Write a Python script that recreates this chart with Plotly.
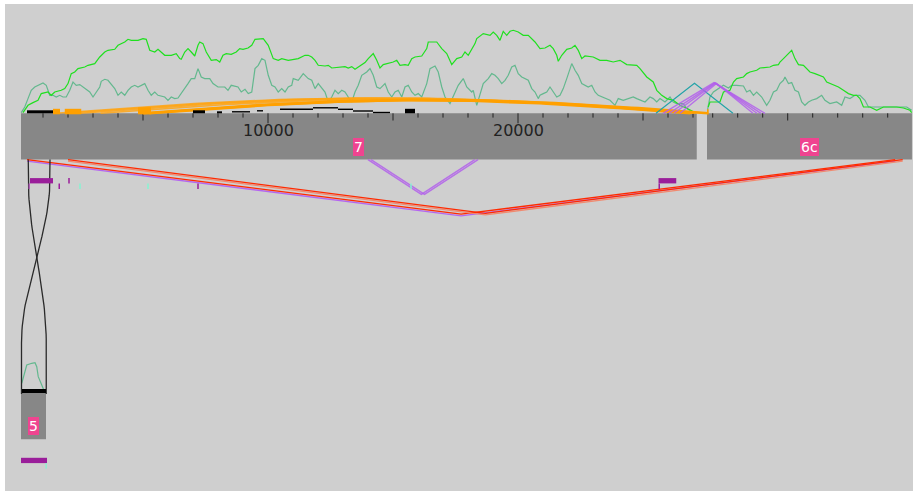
import math
import plotly.graph_objects as go

# ------------------------------------------------------------------ data
contig_names  = ["7", "6c", "5"]
contig_first  = [120, 1772, 0]        # first displayed base
contig_last   = [27150, 9970, 1000]   # last displayed base
contig_offset = [0, 25788, 120]       # offset of the contig inside its row (bp)
contig_row    = [0, 0, 1]

tick_step = 1000
tick_mid = 5000
tick_major = 10000

# coverage tracks: (base, depth)
green_7 = [(200,0.7),(400,8),(600,10.7),(800,13),(930,19.7),(1200,21.3),(1330,18),(1470,21.3),(1730,23),(1870,24.7),(2000,29.7),(2130,39.7),(2270,41.3),(2400,44.7),(2670,46.3),(2800,48),(3070,49.7),(3270,56.3),(3470,61.3),(3600,63),(3870,64),(4000,68),(4270,71.3),(4400,74),(4530,73),(4800,73),(5000,74.7),(5130,74),(5270,63),(5470,61.3),(5600,64),(5730,61.3),(5870,58),(6130,58),(6330,59.7),(6470,54.7),(6530,54),(6670,61.3),(6800,64.7),(6930,61.3),(7070,57.3),(7200,68),(7270,71.3),(7400,69.7),(7530,61.3),(7730,53),(7930,53.7),(8070,51.3),(8200,58),(8330,59.7),(8530,59),(8730,61.3),(8870,64.7),(9000,64),(9200,65.3),(9350,68),(9480,74),(9810,74.7),(10010,68),(10210,54.7),(10410,53),(10550,54.7),(10810,53),(11210,54.7),(11350,56.3),(11480,58),(11610,58),(11750,56.3),(11880,53),(12010,48),(12280,47.3),(12410,48),(12550,45.3),(12810,46.3),(13080,46.7),(13210,45.3),(13350,46.7),(13480,44),(13610,46.3),(13750,48),(13880,50.7),(14010,54.7),(14150,58),(14210,59.7),(14350,53),(14480,45.3),(14610,48.7),(14810,49.7),(15010,51.3),(15150,53),(15280,48),(15480,48.7),(15610,48),(15750,54.7),(15880,56.3),(16150,57.3),(16350,64.7),(16410,71.3),(16750,71.3),(16950,64.7),(17150,59.7),(17350,48.7),(17550,54.7),(17750,56.3),(17880,61.3),(18010,58),(18150,64.7),(18280,69.7),(18350,74.7),(18610,79.7),(18880,78),(19010,81.3),(19150,78),(19280,73),(19410,82),(19550,78),(19680,82),(19810,83),(20010,81.3),(20210,78),(20410,78),(20550,74.7),(20680,71.3),(20880,64.7),(21080,65.3),(21280,68),(21410,64.7),(21550,58),(21610,52),(21750,58),(21950,64),(22150,65.3),(22280,68),(22410,63),(22550,54.7),(22680,57.3),(23010,56.3),(23280,53),(23550,53),(23810,51.3),(24080,53),(24350,48.7),(24750,48),(24880,44.7),(25150,36.3),(25410,31.3),(25550,23),(25750,18),(25950,14.7),(26210,13),(26480,8),(26750,5),(27010,2),(27100,0.5)]

teal_7 = [(130,0.7),(270,6.3),(400,14.7),(530,23),(670,26.3),(800,28),(1000,30.3),(1130,28),(1200,23),(1270,18),(1400,18),(1530,16.3),(1670,18),(1800,16.3),(1930,16.3),(2070,23),(2200,31.3),(2330,28),(2470,28.7),(2600,26.3),(2730,23),(2870,21.3),(3000,16.3),(3130,21.3),(3270,26.3),(3330,32),(3470,34),(3600,33),(3730,28.7),(3870,24.7),(4000,18),(4130,21.3),(4270,18),(4400,23),(4530,26.3),(4670,28),(4800,26.3),(4930,28),(5070,29.7),(5200,23),(5330,18),(5470,21.3),(5600,18),(5870,16.3),(6000,13),(6130,16.3),(6270,14.7),(6400,15.3),(6530,19.7),(6670,24.7),(6800,29.7),(6930,34.7),(7070,34.7),(7200,44.7),(7330,36.3),(7470,34.7),(7670,34.7),(7800,29.7),(8000,26.3),(8270,26.3),(8400,23),(8530,28),(8800,26.3),(8930,21.3),(9080,24),(9210,19.7),(9350,21.3),(9480,44.7),(9610,48),(9750,54.7),(9880,53),(10010,38),(10150,28),(10280,26.3),(10410,21.3),(10550,24.7),(10680,21.3),(10810,26.3),(10950,28),(11010,34.7),(11210,33),(11410,39.7),(11610,34.7),(11750,33),(11880,24.7),(12010,29.7),(12150,24.7),(12280,21.3),(12410,11.3),(12550,16.3),(12680,23),(12810,19.7),(12950,23),(13080,21.3),(13210,16.3),(13350,11.3),(13480,21.3),(13610,28),(13750,38),(13950,41.3),(14080,44.7),(14210,38),(14350,26.3),(14480,24.7),(14680,29.7),(14810,21.3),(14950,16.3),(15080,21.3),(15210,23),(15350,16.3),(15480,26.3),(15610,28),(15750,21.3),(15880,18),(16010,19.7),(16150,16.3),(16350,29.7),(16480,44.7),(16680,47.3),(16810,41.3),(16950,26.3),(17080,16.3),(17280,9.7),(17410,16.3),(17610,28),(17810,34.7),(17950,26.3),(18150,21.3),(18210,23),(18350,8),(18480,19.7),(18610,29.7),(18810,34.7),(18950,39.7),(19080,38),(19210,34.7),(19350,29.7),(19480,33),(19610,38),(19750,46.3),(19880,48),(20010,39.7),(20150,36.3),(20280,34.7),(20410,33),(20550,24.7),(20680,21.3),(20810,14.7),(20880,18),(21010,19.7),(21150,21.3),(21280,26.3),(21410,21.3),(21550,16.3),(21680,18),(21810,24.7),(21950,34.7),(22150,49.7),(22280,43),(22410,38),(22550,29.7),(22680,28),(22810,26.3),(22950,28),(23080,21.3),(23210,18),(23350,16.3),(23480,14.7),(23680,13),(23880,8),(24010,14.7),(24210,13),(24410,14.7),(24610,16.3),(24750,14.7),(24950,13),(25080,11.3),(25280,16.3),(25410,14.7),(25550,11.3),(25680,14.7),(25880,11.3),(26080,16.3),(26210,11.3),(26350,9.7),(26610,9.7),(26750,4.7),(27010,0.7)]

green_6c = [(1820,6.3),(1890,11.3),(2290,11.3),(2430,21.3),(2690,23),(2830,31.3),(2960,34.7),(3230,36.3),(3360,39.7),(3490,41.3),(3760,43),(3890,45.3),(4290,46.3),(4430,48),(4630,48.7),(4690,51.3),(4830,54.7),(5030,59.7),(5160,63),(5290,54.7),(5430,48.7),(5630,48),(5760,44.7),(5890,41.3),(6090,39.7),(6290,38),(6430,36.3),(6560,31.3),(6690,29.7),(6830,28),(7030,26.3),(7230,23),(7430,19.7),(7630,18),(7760,18),(7890,14.7),(8030,6.3),(8290,6.3),(8560,3),(8830,6.3),(9360,6.3),(9630,5.3),(9890,3),(9960,0.7)]

teal_6c = [(1790,3),(1890,16.3),(2030,21.3),(2230,24.7),(2430,28),(2630,25.3),(2760,28),(2960,28),(3230,27.3),(3360,21.3),(3490,23),(3630,18),(3760,21.3),(3960,16.3),(4160,8),(4290,13),(4430,21.3),(4560,23),(4690,29.7),(4830,33),(4890,36.3),(5030,29.7),(5160,30.7),(5290,23),(5430,21.3),(5560,11.3),(5690,8),(5830,11.3),(5960,13),(6160,14.7),(6360,18),(6490,13),(6690,9.7),(6960,11.3),(7160,8),(7290,16.3),(7490,14.7),(7690,18),(7890,18),(8090,13),(8230,6.3),(8430,6.3),(8760,6.3),(9090,6.3),(9430,6.3),(9760,6.3),(9960,3)]

teal_5 = [(30,9.7),(160,23),(230,28),(430,29.7),(560,30.3),(630,26.3),(690,16.3),(830,8),(960,0)]

# black read-depth blocks (contig, start, end, depth) and thin steps
black_blocks = [("7",360,1400,3),("7",7000,7480,3),("7",7960,8160,2),("7",15480,15880,4.5),("5",40,1000,4)]
black_steps  = [("7",8560,9280,1.5),("7",9560,9800,2.5),("7",10480,11800,4),("7",11800,12800,5.5),
                ("7",12800,13400,4),("7",13400,14200,2.3),("7",14200,14880,0.8)]

# orange anchor blocks (contig, start, end, depth)
orange_blocks = [("7",1400,1680,4.5),("7",1870,2530,4.5),("7",4800,5320,6),("6c",1772,1840,4)]

# links (contig A, base A, contig B, base B)
orange_links = [("7",1500,"7",27000),("7",1900,"7",27100),("7",2500,"6c",1800),
                ("7",3300,"7",26950),("7",5000,"7",26900),("7",5250,"6c",1820)]
orange_heavy = [False, False, False, False, True, True]
purple_up   = [("7",25800,"6c",4090),("7",26040,"6c",3930),("7",26240,"6c",3770),("7",26480,"6c",3610)]
teal_up     = [("7",25520,"6c",2810)]
purple_down = [("7",14000,"7",18270),("7",14120,"7",18400)]
red_down    = [("7",360,"6c",9300),("7",2000,"6c",9600)]
black_cross = [("7",410,"5",1010),("7",1280,"5",20)]

# annotation features below contigs (contig, start, end, lane, kind)
features = [("7",480,1400,0,"p"),("7",420,470,1,"l"),("7",1620,1680,1,"p"),("7",2010,2070,0,"p"),
            ("7",7170,7230,1,"p"),("7",2450,2510,1,"c"),("7",5170,5230,1,"c"),("7",25620,26330,0,"p"),
            ("7",25620,25680,1,"p"),("7",15690,15750,1,"c"),("5",0,1040,0,"p"),("5",980,1030,1,"c")]

# ------------------------------------------------------------------ style
ROW_TOP = [113.3, 393.0]
CONTIG_H = 46.3
FEAT_COL = {"p": "#9a1e9a", "l": "#b04ab8", "c": "#86f5d2"}
LANE_Y = [(18.5, 23.8), (23.8, 29.5)]

idx = {n: i for i, n in enumerate(contig_names)}
def X(c, bp): return bp + contig_offset[idx[c]]
def top(c): return ROW_TOP[contig_row[idx[c]]]
def bottom(c): return top(c) + CONTIG_H

fig = go.Figure()
shapes, annos = [], []

# contigs
for n, a, b in zip(contig_names, contig_first, contig_last):
    shapes.append(dict(type="rect", xref="x", yref="y", x0=X(n, a), x1=X(n, b),
                       y0=top(n), y1=bottom(n), fillcolor="#878787", line=dict(width=0), layer="below"))
    annos.append(dict(x=X(n, (a + b) / 2), y=top(n) + 33.3, text=n, showarrow=False,
                      font=dict(family="DejaVu Sans", size=14, color="white"),
                      bgcolor="#ef4490", borderpad=1, borderwidth=0, xanchor="center", yanchor="middle"))

# ticks
tx, ty = [], []
for n, a, b in zip(contig_names, contig_first, contig_last):
    t = (a // tick_step + 1) * tick_step
    while t < b:
        ln = 10 if t % tick_major == 0 else (7.2 if t % tick_mid == 0 else 4.3)
        tx += [X(n, t), X(n, t), None]
        ty += [top(n), top(n) + ln, None]
        if n == "7" and t % tick_major == 0:
            annos.append(dict(x=X(n, t), y=top(n) + 17.5, text=str(t), showarrow=False,
                              font=dict(family="DejaVu Sans", size=16, color="#222222"),
                              xanchor="center", yanchor="middle"))
        t += tick_step
fig.add_trace(go.Scatter(x=tx, y=ty, mode="lines", line=dict(color="#222222", width=1), hoverinfo="skip"))

# coverage
def cov(c, pairs, color, w):
    fig.add_trace(go.Scatter(x=[X(c, p[0]) for p in pairs], y=[top(c) - p[1] for p in pairs],
                             mode="lines", line=dict(color=color, width=w), hoverinfo="skip"))
cov("7", teal_7, "rgba(80,180,130,0.85)", 1.2)
cov("6c", teal_6c, "rgba(80,180,130,0.85)", 1.2)
cov("5", teal_5, "rgba(80,180,130,0.85)", 1.2)
cov("7", green_7, "#1fe01f", 1.2)
cov("6c", green_6c, "#1fe01f", 1.2)

# black depth
for c, a, b, d in black_blocks:
    shapes.append(dict(type="rect", xref="x", yref="y", x0=X(c, a), x1=X(c, b), y0=top(c) - d, y1=top(c),
                       fillcolor="black", line=dict(width=0)))
bx, by = [], []
for c, a, b, d in black_steps:
    bx += [X(c, a), X(c, b), None]
    by += [top(c) - d, top(c) - d, None]
fig.add_trace(go.Scatter(x=bx, y=by, mode="lines", line=dict(color="black", width=1.4), hoverinfo="skip"))

# orange arcs
for (ca, a, cb, b), heavy in zip(orange_links, orange_heavy):
    xa, xb = X(ca, a), X(cb, b)
    h = abs(xb - xa) * 0.0006
    xs = [xa + (xb - xa) * i / 80 for i in range(81)]
    ys = [top(ca) - h * math.sin(math.pi * i / 80) for i in range(81)]
    fig.add_trace(go.Scatter(x=xs, y=ys, mode="lines", hoverinfo="skip",
                             line=dict(color="#ffa000" if heavy else "rgba(255,165,20,0.85)",
                                       width=2.6 if heavy else 1.6)))
for c, a, b, d in orange_blocks:
    shapes.append(dict(type="rect", xref="x", yref="y", x0=X(c, a), x1=X(c, b), y0=top(c) - d, y1=top(c) + 1,
                       fillcolor="#ffa000", line=dict(width=0)))

# V links
def vlink(ca, a, cb, b, up, color, w, shift=0.0):
    xa, xb = X(ca, a), X(cb, b)
    span = abs(xb - xa)
    if up:
        base = top(ca); h = -(28 + span * 0.00065)
    else:
        base = bottom(ca); h = 32 + span * 0.00065
    fig.add_trace(go.Scatter(x=[xa, (xa + xb) / 2, xb], y=[base + shift, base + h + shift, base + shift],
                             mode="lines", line=dict(color=color, width=w), hoverinfo="skip"))

for l in teal_up:
    vlink(*l, True, "#21a3a8", 1.1)
for l in purple_up:
    vlink(*l, True, "rgba(178,95,235,0.85)", 1.4)
for l in purple_down:
    vlink(*l, False, "rgba(178,95,235,0.85)", 1.4)
for l, comp in zip(red_down, ["#b466f0", "#f08a70"]):
    vlink(*l, False, comp, 1.3, shift=1.6)
    vlink(*l, False, "#ff2a00", 1.3)

# cross-row links
for ca, a, cb, b in black_cross:
    xa, xb = X(ca, a), X(cb, b)
    y0, y3 = bottom(ca), top(cb)
    ya, yb = y0 + 18.5, y3 - 50
    xs, ys = [xa], [y0]
    for i in range(41):
        t = i / 40
        py = [ya, ya + 0.35 * (yb - ya), yb - 0.35 * (yb - ya), yb]
        px = [xa, xa, xb, xb]
        co = [(1 - t) ** 3, 3 * (1 - t) ** 2 * t, 3 * (1 - t) * t ** 2, t ** 3]
        xs.append(sum(k * v for k, v in zip(co, px)))
        ys.append(sum(k * v for k, v in zip(co, py)))
    xs.append(xb); ys.append(y3 + 1)
    fig.add_trace(go.Scatter(x=xs, y=ys, mode="lines", line=dict(color="#2a2a2a", width=1.3), hoverinfo="skip"))

# features under contigs
for c, a, b, lane, kind in features:
    y0, y1 = LANE_Y[lane]
    shapes.append(dict(type="rect", xref="x", yref="y", x0=X(c, a), x1=X(c, b),
                       y0=bottom(c) + y0, y1=bottom(c) + y1, fillcolor=FEAT_COL[kind], line=dict(width=0)))

fig.update_layout(
    width=917, height=493, autosize=False, showlegend=False,
    margin=dict(l=5, r=4, t=4, b=2),
    paper_bgcolor="white", plot_bgcolor="#cfcfcf",
    xaxis=dict(range=[-520, 35800], visible=False, fixedrange=True),
    yaxis=dict(range=[491, 4], visible=False, fixedrange=True),
    shapes=shapes, annotations=annos,
)
fig.write_html("out.html")
